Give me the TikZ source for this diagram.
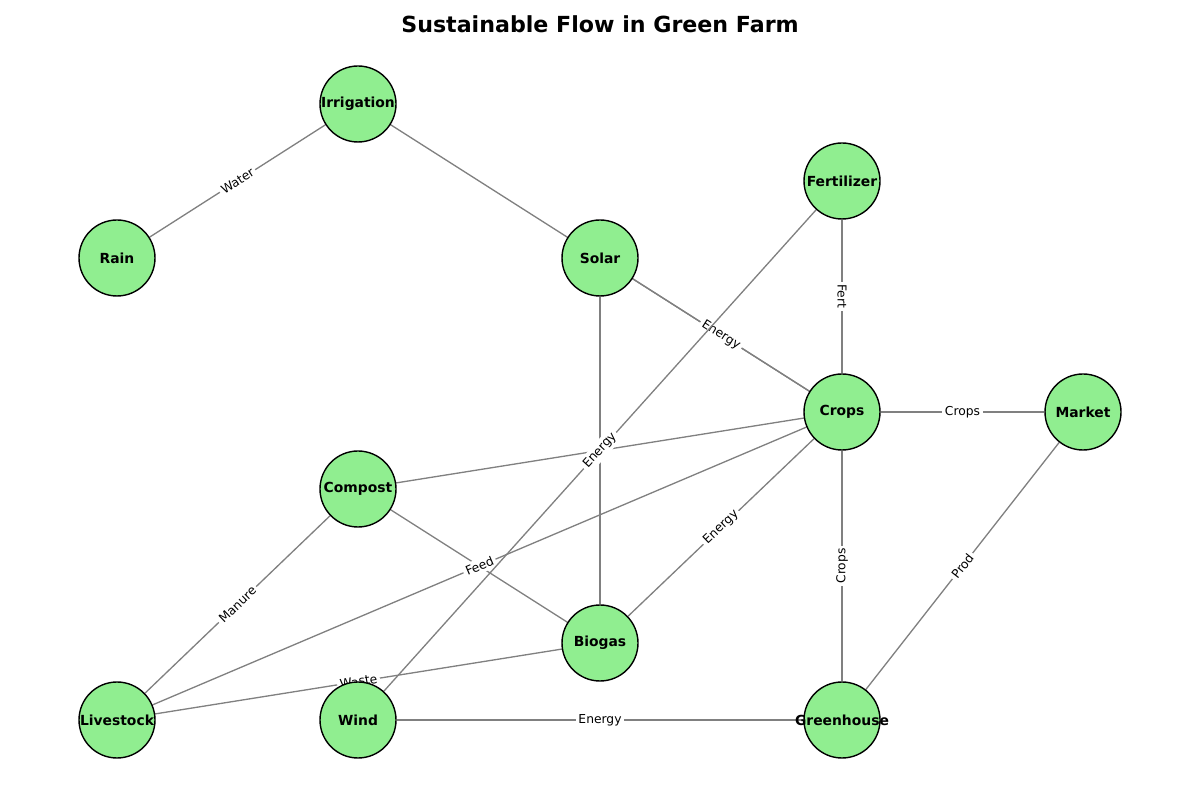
\documentclass[tikz,border=0pt]{standalone}
\usepackage{fontspec}
\setmainfont{DejaVu Sans}
\usetikzlibrary{backgrounds}
\newcommand{\farmtext}[1]{\makebox[0pt]{#1}}
\begin{document}
\begin{tikzpicture}[
    farmnode/.style={shape=circle,draw,line width=0.8pt,fill=farm_green,minimum size=1.52cm,inner sep=0pt,font=\fontsize{7.9}{9}\selectfont\bfseries},
    flowedge/.style={draw=farm_gray,line width=0.75pt},
    flowlabel/.style={midway,fill=white,inner sep=1.5pt,font=\fontsize{7}{8}\selectfont}
  ]
    \definecolor{farm_green}{RGB}{144,238,144}
    \definecolor{farm_gray}{RGB}{128,128,128}
    \useasboundingbox (0,0) rectangle (24,16);
    \node[font=\fontsize{12.6}{15}\selectfont\bfseries] (title) at (12,15.52) {Sustainable Flow in Green Farm};
    \node[farmnode] (irrigation) at (7.16,13.92)  {\farmtext{Irrigation}};
    \node[farmnode] (rain)       at (2.34,10.84)  {\farmtext{Rain}};
    \node[farmnode] (solar)      at (12,10.84)    {\farmtext{Solar}};
    \node[farmnode] (fertilizer) at (16.84,12.38) {\farmtext{Fertilizer}};
    \node[farmnode] (crops)      at (16.84,7.76)  {\farmtext{Crops}};
    \node[farmnode] (market)     at (21.66,7.76)  {\farmtext{Market}};
    \node[farmnode] (compost)    at (7.16,6.22)   {\farmtext{Compost}};
    \node[farmnode] (biogas)     at (12,3.14)     {\farmtext{Biogas}};
    \node[farmnode] (livestock)  at (2.34,1.6)    {\farmtext{Livestock}};
    \node[farmnode] (wind)       at (7.16,1.6)    {\farmtext{Wind}};
    \node[farmnode] (greenhouse) at (16.84,1.6)   {\farmtext{Greenhouse}};
    \begin{scope}[on background layer]
    \draw[flowedge] (rain) -- node[flowlabel,sloped] {Water} (irrigation);
    \draw[flowedge] (irrigation.center) -- (crops.center);
    \draw[flowedge] (solar) -- node[flowlabel,sloped] {Energy} (crops);
    \draw[flowedge] (fertilizer) -- node[flowlabel,rotate=-90] {Fert} (crops);
    \draw[flowedge] (crops) -- node[flowlabel] {Crops} (market);
    \draw[flowedge] (crops) -- node[flowlabel,rotate=90] {Crops} (greenhouse);
    \draw[flowedge] (greenhouse) -- node[flowlabel,sloped] {Prod} (market);
    \draw[flowedge] (biogas) -- node[flowlabel,sloped] {Energy} (crops);
    \draw[flowedge] (solar) -- (biogas);
    \draw[flowedge] (compost) -- (crops);
    \draw[flowedge] (compost) -- (biogas);
    \draw[flowedge] (livestock) -- node[flowlabel,sloped] {Manure} (compost);
    \draw[flowedge] (livestock) -- node[flowlabel,sloped] {Waste} (biogas);
    \draw[flowedge] (livestock) -- node[flowlabel,sloped] {Feed} (crops);
    \draw[flowedge] (wind) -- node[flowlabel,sloped] {Energy} (fertilizer);
    \draw[flowedge] (wind) -- node[flowlabel] {Energy} (greenhouse);
    \end{scope}
\end{tikzpicture}
\end{document}
